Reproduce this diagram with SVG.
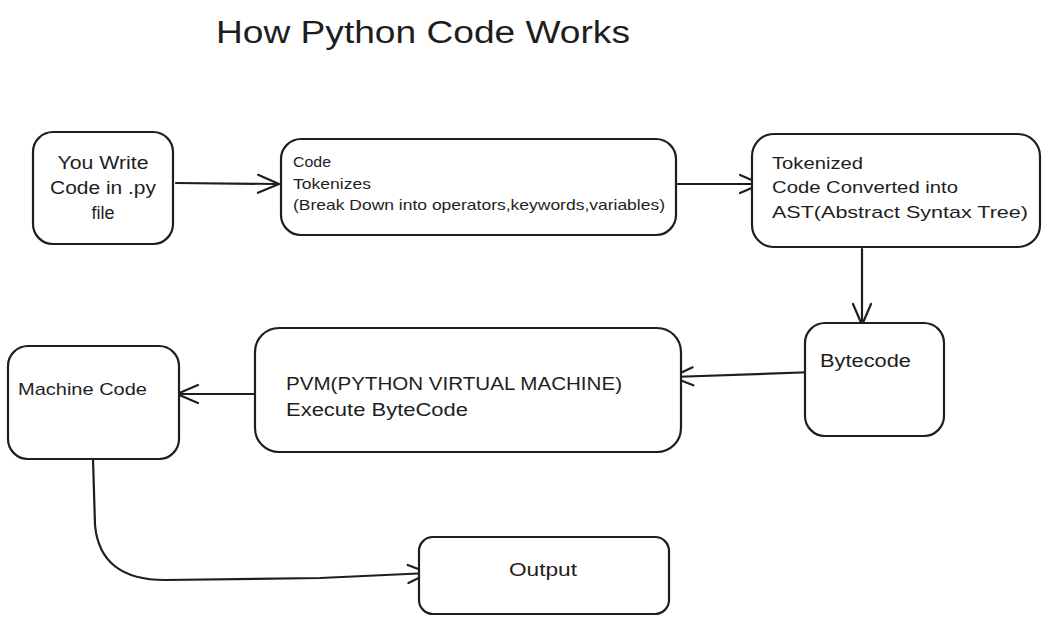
<svg xmlns="http://www.w3.org/2000/svg" width="1047" height="624" viewBox="0 0 1047 624">
<style>
.box{fill:#fff;stroke:#1e1e1e;stroke-width:2.2;}
.t{font-family:"Liberation Sans","Noto Sans",sans-serif;fill:#1e1e1e;}
.edge{fill:none;stroke:#1e1e1e;stroke-width:2.2;stroke-linecap:round;stroke-linejoin:round;}
</style>
<defs>
<marker id="ah" markerUnits="userSpaceOnUse" viewBox="-24 -12 28 24" refX="0" refY="0" markerWidth="28" markerHeight="24" orient="auto">
<path d="M -21 -9 L 0 0 L -21 9" fill="none" stroke="#1e1e1e" stroke-width="2.2" stroke-linecap="round" stroke-linejoin="round"/>
</marker>
</defs>
<rect width="1047" height="624" fill="#fff"/>
<text class="t" x="216" y="43" font-size="31" textLength="414" lengthAdjust="spacingAndGlyphs">How Python Code Works</text>

<g id="edges">
<path class="edge" d="M 176 183 L 279 184" marker-end="url(#ah)"/>
<path class="edge" d="M 678 184 L 761 184" marker-end="url(#ah)"/>
<path class="edge" d="M 862 249 L 862 325" marker-end="url(#ah)"/>
<path class="edge" d="M 815 372 L 672 377" marker-end="url(#ah)"/>
<path class="edge" d="M 255 394 L 177 394" marker-end="url(#ah)"/>
<path class="edge" d="M 93 459 L 95 525 Q 100 580 165 580 L 320 578 L 429 573" marker-end="url(#ah)"/>
</g>

<g id="n1">
<rect class="box" x="33" y="132" width="140" height="112" rx="20"/>
<text class="t" font-size="18" text-anchor="middle"><tspan x="103" y="169" textLength="91" lengthAdjust="spacingAndGlyphs">You Write</tspan><tspan x="103" y="194" textLength="106" lengthAdjust="spacingAndGlyphs">Code in .py</tspan><tspan x="103" y="219">file</tspan></text>
</g>
<g id="n2">
<rect class="box" x="281" y="139" width="395" height="96" rx="20"/>
<text class="t" font-size="15"><tspan x="293" y="167" textLength="38" lengthAdjust="spacingAndGlyphs">Code</tspan><tspan x="293" y="189" textLength="78" lengthAdjust="spacingAndGlyphs">Tokenizes</tspan><tspan x="293" y="210" textLength="372" lengthAdjust="spacingAndGlyphs">(Break Down into operators,keywords,variables)</tspan></text>
</g>
<g id="n3">
<rect class="box" x="752" y="134" width="288" height="113" rx="22"/>
<text class="t" font-size="17"><tspan x="772" y="169" textLength="91" lengthAdjust="spacingAndGlyphs">Tokenized</tspan><tspan x="772" y="193" textLength="186" lengthAdjust="spacingAndGlyphs">Code Converted into</tspan><tspan x="772" y="218" textLength="256" lengthAdjust="spacingAndGlyphs">AST(Abstract Syntax Tree)</tspan></text>
</g>
<g id="n4">
<rect class="box" x="805" y="323" width="139" height="113" rx="20"/>
<text class="t" font-size="18" x="820" y="367" textLength="91" lengthAdjust="spacingAndGlyphs">Bytecode</text>
</g>
<g id="n5">
<rect class="box" x="255" y="328" width="426" height="124" rx="24"/>
<text class="t" font-size="18"><tspan x="286" y="390" textLength="336" lengthAdjust="spacingAndGlyphs">PVM(PYTHON VIRTUAL MACHINE)</tspan><tspan x="286" y="416" textLength="182" lengthAdjust="spacingAndGlyphs">Execute ByteCode</tspan></text>
</g>
<g id="n6">
<rect class="box" x="8" y="346" width="171" height="113" rx="20"/>
<text class="t" font-size="17" x="18" y="395" textLength="129" lengthAdjust="spacingAndGlyphs">Machine Code</text>
</g>
<g id="n7">
<rect class="box" x="419" y="537" width="250" height="77" rx="14"/>
<text class="t" font-size="18" x="509" y="576" textLength="68" lengthAdjust="spacingAndGlyphs">Output</text>
</g>
</svg>
